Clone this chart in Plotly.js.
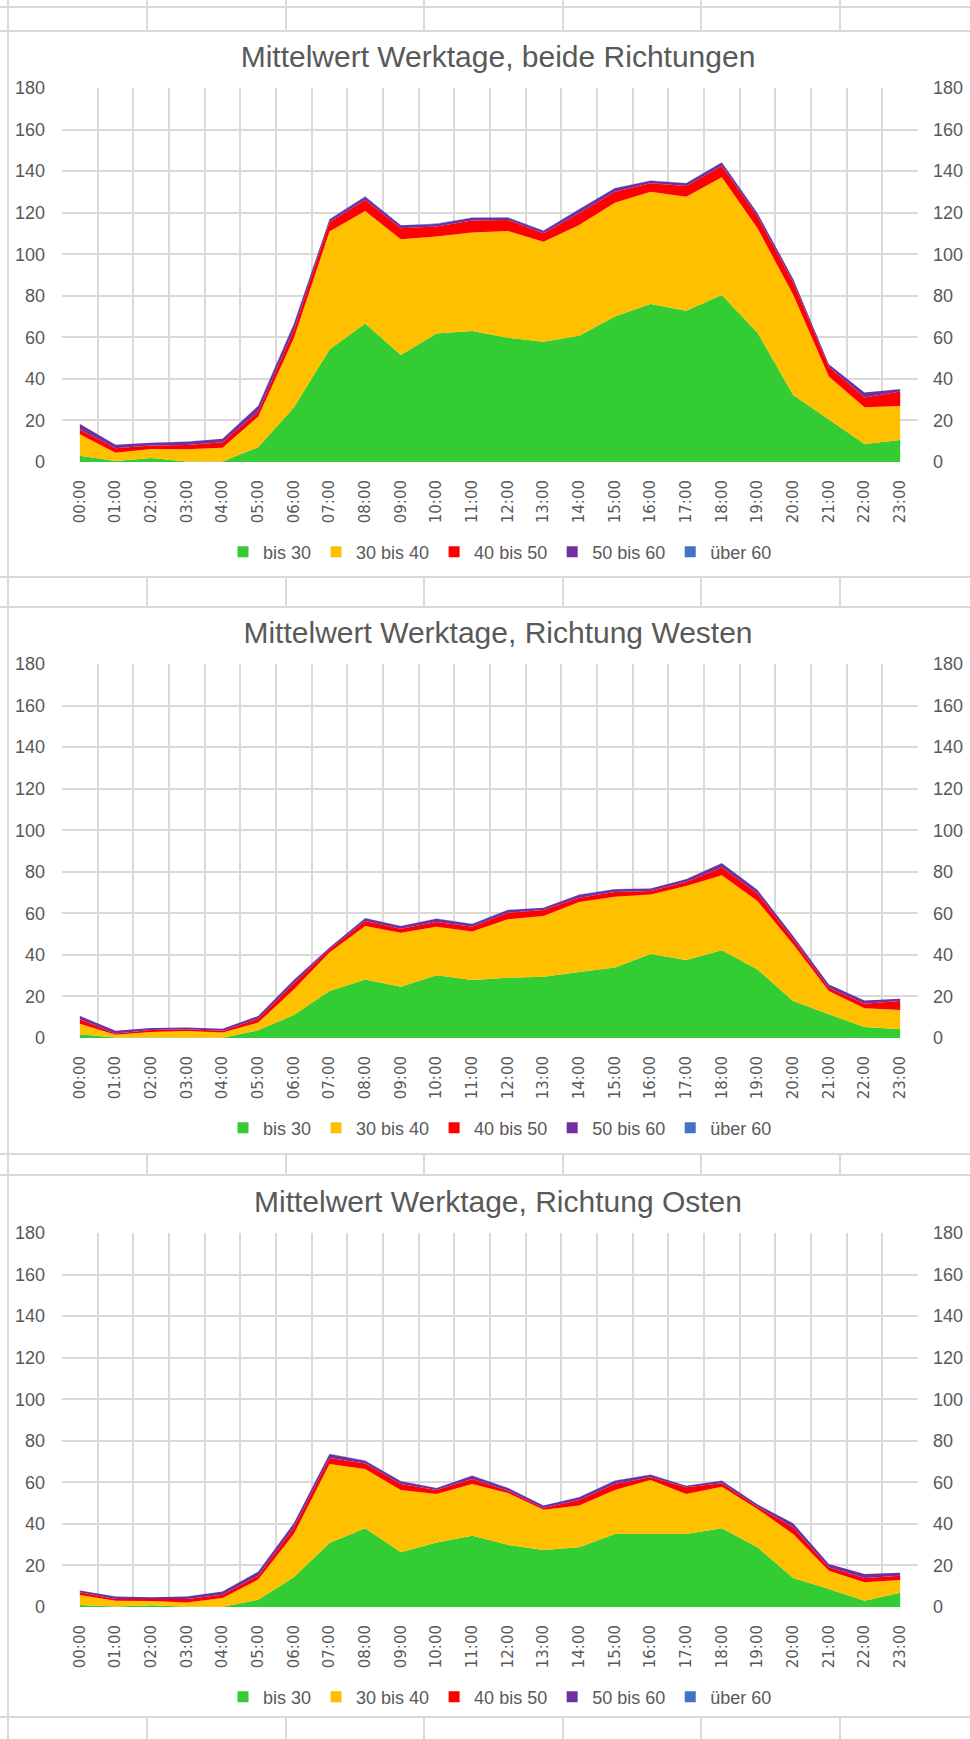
<!DOCTYPE html>
<html><head><meta charset="utf-8">
<script src="https://cdn.plot.ly/plotly-3.0.1.min.js"></script>
<style>
html,body{margin:0;padding:0;width:970px;height:1739px;overflow:hidden;background:#fff;position:relative}
.hl{position:absolute;left:0;width:970px;height:2px;background:#d9d9d9}
.vl{position:absolute;top:0;height:1739px;width:2px;background:#d9d9d9}
.box{position:absolute;left:9px;width:961px;background:#fff}
.plot{position:absolute;left:9px;width:978px}
</style></head><body>
<div class="vl" style="left:7px"></div>
<div class="vl" style="left:146px"></div>
<div class="vl" style="left:285px"></div>
<div class="vl" style="left:423px"></div>
<div class="vl" style="left:562px"></div>
<div class="vl" style="left:700px"></div>
<div class="vl" style="left:839px"></div>
<div class="hl" style="top:6px"></div>
<div class="hl" style="top:30px"></div>
<div class="hl" style="top:576px"></div>
<div class="hl" style="top:606px"></div>
<div class="hl" style="top:1153px"></div>
<div class="hl" style="top:1174px"></div>
<div class="hl" style="top:1716px"></div>
<div class="box" style="top:32px;height:544px"></div>
<div class="box" style="top:608px;height:545px"></div>
<div class="box" style="top:1176px;height:540px"></div>
<div id="c1" class="plot" style="top:32px;height:544px"></div>
<div id="c2" class="plot" style="top:608px;height:545px"></div>
<div id="c3" class="plot" style="top:1176px;height:540px"></div>
<script>
const hours = ["00:00","01:00","02:00","03:00","04:00","05:00","06:00","07:00","08:00","09:00","10:00","11:00","12:00","13:00","14:00","15:00","16:00","17:00","18:00","19:00","20:00","21:00","22:00","23:00"];
const seriesNames = ["bis 30","30 bis 40","40 bis 50","50 bis 60","über 60"];
const seriesColors = ["#33cc33","#ffc000","#ff0000","#7030a0","#4472c4"];

// Mittelwert Werktage, beide Richtungen
const beide_bis30   = [3.0,0.5,1.9,0.2,0.3,7.1,26.2,54.2,66.7,51.5,61.9,63.1,59.8,57.9,60.8,70.0,76.0,72.8,80.4,62.2,32.2,20.5,8.7,10.6];
const beide_30_40   = [10.3,4.0,4.4,5.9,6.6,14.7,33.3,56.7,54.1,55.7,46.6,47.4,51.4,48.1,53.3,54.8,54.1,54.9,56.6,50.3,48.3,20.6,17.6,16.4];
const beide_40_50   = [2.4,2.1,1.6,2.1,2.6,2.4,4.0,4.5,5.3,5.3,4.8,5.7,5.3,4.1,5.6,5.3,4.0,5.1,5.5,5.6,6.0,4.8,4.8,6.9];
const beide_50_60   = [2.6,1.7,1.4,1.6,1.7,2.8,2.9,1.3,1.6,1.4,1.3,1.4,1.1,1.2,1.9,1.6,1.3,1.3,1.6,1.6,1.6,1.1,2.3,1.1];
const beide_ueber60 = [0.1,0,0,0.1,0,0.1,0.2,0.2,0.2,0.1,0.2,0.1,0.2,0.1,0.2,0.2,0.1,0.2,0.2,0.1,0.1,0.1,0,0.1];

// Mittelwert Werktage, Richtung Westen
const west_bis30   = [1.8,0.2,0.3,0.2,0.1,3.7,11.1,22.6,28.2,24.7,30.2,27.9,29.0,29.5,31.8,33.9,40.4,37.5,42.2,33.0,17.8,11.4,5.3,4.2];
const west_30_40   = [5.1,1.4,2.6,3.2,2.5,3.7,12.3,18.5,25.7,26.0,23.4,23.4,28.1,29.2,33.7,34.1,28.7,35.7,36.1,32.9,27.3,11.2,9.0,9.3];
const west_40_50   = [2.1,0.6,1.0,0.8,0.9,1.9,2.9,1.6,2.4,1.9,2.2,2.3,3.2,2.9,2.0,2.3,1.7,1.9,3.7,3.6,2.4,1.6,2.2,4.3];
const west_50_60   = [1.6,1.3,0.9,0.8,1.0,1.3,1.6,0.8,1.3,1.3,1.6,1.3,1.3,1.1,1.5,1.3,1.2,1.3,2.1,1.7,1.6,1.6,1.5,1.1];
const west_ueber60 = [0.1,0,0,0,0,0,0.1,0.1,0.1,0,0.1,0.1,0.1,0,0.1,0.1,0,0.1,0.1,0.1,0,0.1,0,0];

// Mittelwert Werktage, Richtung Osten
const ost_bis30   = [1.0,0.2,0.8,0.1,0.1,3.5,14.3,30.8,37.9,26.3,31.1,34.3,29.9,27.4,28.7,35.1,35.1,35.1,37.9,28.7,14.0,8.7,3.0,6.9];
const ost_30_40   = [4.8,2.8,2.1,2.1,4.2,9.7,20.8,38.0,28.5,30.0,23.3,24.9,25.0,19.4,20.1,21.2,26.0,19.3,20.0,18.5,21.1,8.8,8.9,6.1];
const ost_40_50   = [1.3,0.9,1.0,1.7,1.6,1.9,3.2,2.9,2.7,2.9,1.9,2.4,1.1,0.8,2.7,2.9,1.3,3.2,1.6,1.1,3.2,1.6,2.1,2.1];
const ost_50_60   = [0.8,1.1,0.8,1.1,1.5,1.9,2.0,1.9,1.3,1.3,1.0,1.6,1.3,1.2,1.3,1.6,1.3,0.8,1.3,1.0,2.0,1.6,1.9,1.4];
const ost_ueber60 = [0,0,0,0,0,0.1,0.1,0.1,0.1,0.1,0,0.1,0.1,0,0.1,0.1,0.1,0,0.1,0.1,0,0,0,0];

const charts = [
  {id:"c1", title:"Mittelwert Werktage, beide Richtungen", series:[beide_bis30,beide_30_40,beide_40_50,beide_50_60,beide_ueber60], top:56},
  {id:"c2", title:"Mittelwert Werktage, Richtung Westen", series:[west_bis30,west_30_40,west_40_50,west_50_60,west_ueber60], top:56},
  {id:"c3", title:"Mittelwert Werktage, Richtung Osten", series:[ost_bis30,ost_30_40,ost_40_50,ost_50_60,ost_ueber60], top:57}
];

const TXT = "#595959", GRID = "#d9d9d9";
const PLOT_H = 374;

charts.forEach(ch => {
  const el = document.getElementById(ch.id);
  const H = el.clientHeight;
  const traces = [];
  ch.series.forEach((vals, i) => {
    traces.push({type:"scatter", x:hours, y:vals, name:seriesNames[i], stackgroup:"one",
      mode:"none", fillcolor:seriesColors[i], showlegend:false, hoverinfo:"x+y+name"});
  });
  seriesNames.forEach((nm, i) => {
    traces.push({type:"scatter", x:[null], y:[null], name:nm, mode:"markers",
      marker:{symbol:"square", size:11, color:seriesColors[i]}, showlegend:true, hoverinfo:"skip"});
  });
  traces.push({type:"scatter", x:hours, y:hours.map(()=>null), yaxis:"y2", mode:"lines",
    showlegend:false, hoverinfo:"skip"});

  const tickFont = {family:"Liberation Sans, Arial, sans-serif", size:18, color:TXT};
  const legendCenterY = ch.top + PLOT_H + 90;
  const layout = {
    width:978, height:H,
    margin:{l:53, r:69, t:ch.top, b:H-ch.top-PLOT_H, pad:0, autoexpand:false},
    paper_bgcolor:"rgba(0,0,0,0)", plot_bgcolor:"rgba(0,0,0,0)",
    showlegend:true,
    title:{text:ch.title, font:{family:"Liberation Sans, Arial, sans-serif", size:30, color:TXT},
      xref:"container", x:0.5, xanchor:"center", yref:"container", y:1-(ch.top-32)/H, yanchor:"middle"},
    xaxis:{type:"category", range:[-0.5,23.5], tickson:"boundaries", showgrid:true, gridcolor:GRID, gridwidth:2,
      ticks:"", tickangle:-90, ticklabelstandoff:14, automargin:false,
      tickfont:{family:"DejaVu Sans, sans-serif", size:15, color:TXT}, showline:false, zeroline:false},
    yaxis:{range:[0,180], tick0:0, dtick:20, showgrid:true, gridcolor:GRID, gridwidth:2, zeroline:false,
      ticks:"", ticklabelstandoff:16, tickfont:tickFont, showline:false, automargin:false},
    yaxis2:{overlaying:"y", side:"right", range:[0,180], tick0:0, dtick:20, showgrid:false, zeroline:false,
      ticks:"", ticklabelstandoff:14, tickfont:tickFont, showline:false, automargin:false},
    legend:{orientation:"h", xref:"container", x:491/978, xanchor:"center",
      yref:"container", y:1-legendCenterY/H, yanchor:"middle",
      traceorder:"normal", font:{family:"Liberation Sans, Arial, sans-serif", size:18, color:TXT},
      bgcolor:"rgba(0,0,0,0)"}
  };
  Plotly.newPlot(el, traces, layout, {displayModeBar:false, staticPlot:true});
});
</script>
</body></html>
